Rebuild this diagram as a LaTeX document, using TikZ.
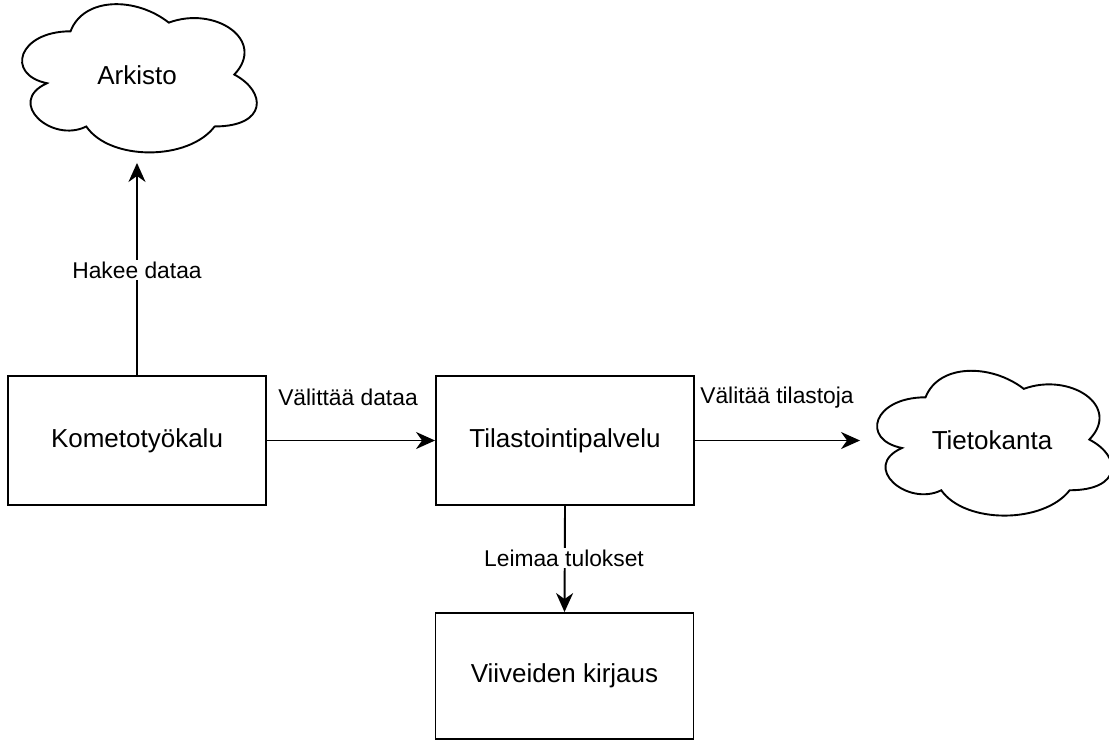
\documentclass[tikz,border=0pt]{standalone}
\usepackage{fontspec}
\setmainfont{Liberation Sans}
\usetikzlibrary{arrows.meta}
\newcommand\drawcloud[3]{%
  \begin{scope}[shift={(#1.north west)}, x=#2pt, y=-#3pt]
    \draw (0.25,0.25) .. controls (0.05,0.25) and (0,0.5) .. (0.16,0.55)
      .. controls (0,0.66) and (0.18,0.9) .. (0.31,0.8)
      .. controls (0.4,1) and (0.7,1) .. (0.8,0.8)
      .. controls (1,0.8) and (1,0.6) .. (0.875,0.5)
      .. controls (1,0.3) and (0.8,0.1) .. (0.625,0.2)
      .. controls (0.5,0.05) and (0.3,0.05) .. (0.25,0.25) -- cycle;
  \end{scope}}
\begin{document}
\begin{tikzpicture}[x=1pt, y=-1pt, line width=1.9pt,
  box/.style={draw, minimum width=258pt, minimum height=129pt, inner sep=0pt,
    font=\fontsize{26}{30}\selectfont},
  cloudnode/.style={inner sep=0pt, font=\fontsize{26}{30}\selectfont},
  lbl/.style={font=\fontsize{22.8}{26}\selectfont, inner sep=2pt},
  conn/.style={-{Stealth[length=19pt, width=17pt, inset=6pt]}}]
  \useasboundingbox (0,0) rectangle (1109,740);
  % nodes
  \node[box] (kometo) at (137,440.5) {Kometotyökalu};
  \node[box] (tilasto) at (565,440.5) {Tilastointipalvelu};
  \node[box, minimum height=126pt] (viive) at (564.5,676) {Viiveiden kirjaus};
  \node[cloudnode, minimum width=262pt, minimum height=173pt] (arkisto) at (137,75.5) {Arkisto};
  \node[cloudnode, minimum width=262pt, minimum height=169pt] (tieto) at (992,440.5) {Tietokanta};
  \drawcloud{arkisto}{262}{173}
  \drawcloud{tieto}{262}{169}
  % connectors
  \draw[conn] (kometo.north) -- (arkisto.south);
  \draw[conn] (kometo.east) -- (tilasto.west);
  \draw[conn] (tilasto.east) -- (tieto.west);
  \draw[conn] (tilasto.south) -- (viive.north);
  % labels
  \node[lbl, fill=white] (l1) at (137,270) {Hakee dataa};
  \node[lbl] (l2) at (348,397) {Välittää dataa};
  \node[lbl] (l3) at (777,398) {Välitää tilastoja};
  \node[lbl, fill=white] (l4) at (564,558) {Leimaa tulokset};
\end{tikzpicture}
\end{document}
